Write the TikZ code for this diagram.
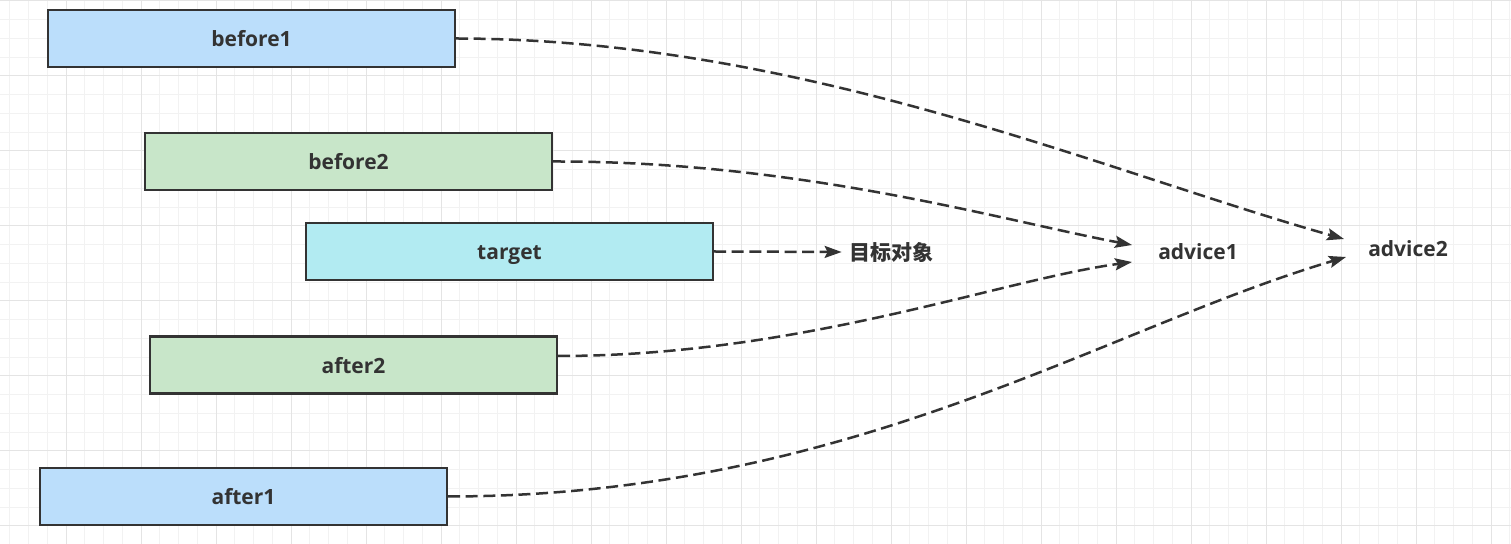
\documentclass[tikz,border=0pt]{standalone}
\usepackage{fontspec}
\setmainfont{Open Sans}
\newfontfamily\cjk{Noto Sans CJK SC}
\usetikzlibrary{arrows.meta}
\definecolor{bluefill}{HTML}{BBDEFB}
\definecolor{greenfill}{HTML}{C8E6C9}
\definecolor{cyanfill}{HTML}{B2EBF2}
\definecolor{ink}{HTML}{333333}
\definecolor{gridminor}{HTML}{F2F2F2}
\definecolor{gridmajor}{HTML}{E4E4E4}
\tikzset{
  box/.style={draw=ink, line width=1.1pt, minimum width=203.5pt, minimum height=28.5pt, inner sep=0pt, text=ink, text height=9pt, text depth=0.8pt, font=\fontsize{10.5pt}{12pt}\selectfont\bfseries},
  lbl/.style={text=ink, text height=9pt, text depth=0.8pt, font=\fontsize{10.5pt}{12pt}\selectfont\bfseries},
  conn/.style={draw=ink, line width=1.25pt, dash pattern=on 6pt off 2.8pt, -{Stealth[length=8.5pt,width=6pt,inset=1.5pt]}}
}
\begin{document}
\begin{tikzpicture}[x=0.5pt,y=-0.5pt]
\useasboundingbox (0,0) rectangle (1511,544);
\fill[white] (0,0) rectangle (1511,544);
% grid
\foreach \i in {0,...,80} {
  \pgfmathsetmacro{\xx}{9.75+18.75*\i}
  \ifdim\xx pt<1511pt \draw[gridminor, line width=0.5pt] (\xx,0) -- (\xx,544); \fi
}
\foreach \i in {0,...,29} {
  \pgfmathsetmacro{\yy}{1+18.75*\i}
  \ifdim\yy pt<544pt \draw[gridminor, line width=0.5pt] (0,\yy) -- (1511,\yy); \fi
}
\foreach \i in {0,...,20} {
  \pgfmathsetmacro{\xx}{-9+75*\i}
  \ifdim\xx pt<1511pt \draw[gridmajor, line width=0.5pt] (\xx,0) -- (\xx,544); \fi
}
\foreach \i in {0,...,7} {
  \pgfmathsetmacro{\yy}{1+75*\i}
  \ifdim\yy pt<544pt \draw[gridmajor, line width=0.5pt] (0,\yy) -- (1511,\yy); \fi
}
% boxes
\node[box, fill=bluefill] (before1) at (251.5,38.5) {before1};
\node[box, fill=greenfill] (before2) at (348.5,161.5) {before2};
\node[box, fill=cyanfill] (target) at (509.5,251.5) {target};
\node[box, fill=greenfill] (after2) at (353.5,365) {after2};
\node[box, fill=bluefill] (after1) at (243.5,496.5) {after1};
% labels
\node[lbl] (advice1) at (1198,251) {advice1};
\node[lbl] (advice2) at (1408,248) {advice2};
\node[lbl, inner sep=3.5pt] (obj) at (891,252) {\cjk 目标对象};
\coordinate (a1top) at (1132,245);
\coordinate (a1bot) at (1132,262);
\coordinate (a2top) at (1344,239);
\coordinate (a2bot) at (1346,257);
% connectors
\draw[conn] (target.east) -- (obj.west);
\draw[conn] (before1.east) .. controls (800,39) and (1100,170) .. (a2top);
\draw[conn] (before2.east) .. controls (800,161) and (1000,220) .. (a1top);
\draw[conn] ([yshift=4.5pt]after2.east) .. controls (800,356) and (1000,280) .. (a1bot);
\draw[conn] (after1.east) .. controls (850,496) and (1100,330) .. (a2bot);
\end{tikzpicture}
\end{document}
